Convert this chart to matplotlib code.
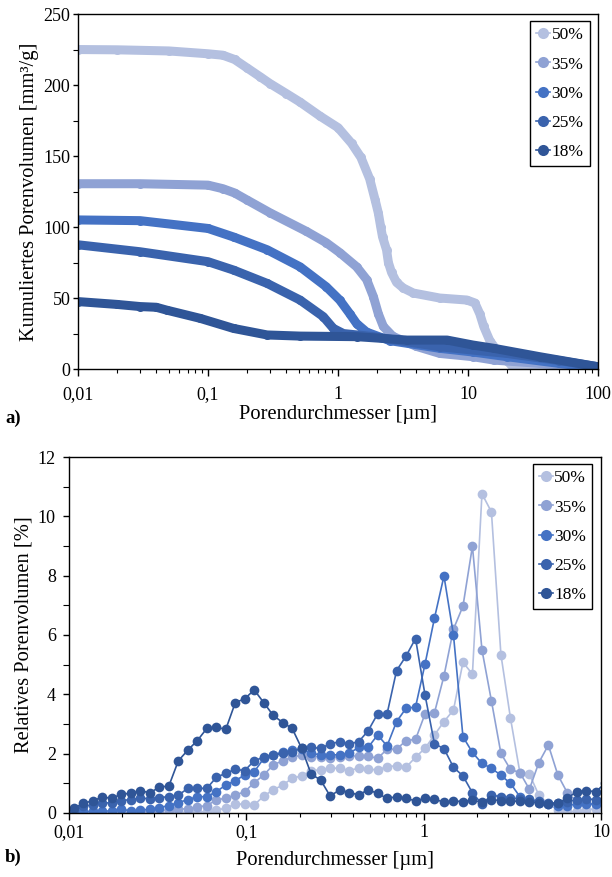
import matplotlib.pyplot as plt
from matplotlib.lines import Line2D
from matplotlib.ticker import FixedLocator, MultipleLocator, LogLocator, NullFormatter

plt.rcParams['font.family'] = ['Liberation Serif', 'DejaVu Serif']

labels = ['50%', '35%', '30%', '25%', '18%']
colors = ['#b4c0e0', '#8fa2d4', '#4472c4', '#3a63ad', '#2f5597']

# cumulative pore volume [mm³/g] vs pore diameter [µm]
d_cum_50 = [0.01, 0.02, 0.05, 0.1, 0.13, 0.16, 0.2, 0.25, 0.3, 0.4, 0.51, 0.73, 1.0, 1.27,
            1.5, 1.75, 1.93, 2.04, 2.13, 2.20, 2.36, 2.44, 2.58, 2.82, 3.18, 3.80, 6.06,
            9.78, 11.3, 12.3, 13.2, 14.7, 16.7, 19.9, 22.4, 30, 50, 100]
v_cum_50 = [225, 224.8, 224, 222, 221, 218, 212, 206, 201, 194, 188, 178, 170, 159,
            149, 134, 119, 110, 100, 93, 84, 75, 68, 61, 57, 53.5, 50,
            48.6, 46.5, 39, 30, 20, 13, 6, 1, 0.3, 0.2, 0]
d_cum_35 = [0.01, 0.03, 0.1, 0.13, 0.16, 0.2, 0.3, 0.57, 0.81, 1.03, 1.39, 1.66, 1.87,
            2.04, 2.23, 2.64, 4.0, 6.06, 10.9, 15.8, 35.5, 100]
v_cum_35 = [130.5, 130.5, 129.5, 127, 124, 119, 110, 97, 89, 82, 72, 63, 51,
            39, 30, 23, 16, 11, 8.7, 6.3, 4, 0.7]
d_cum_30 = [0.01, 0.03, 0.1, 0.157, 0.285, 0.51, 0.81, 1.03, 1.23, 1.39, 1.66,
            2.5, 6.06, 10.9, 19.9, 50, 100]
v_cum_30 = [105, 104.5, 99, 93, 84, 72, 58, 48.6, 39, 32, 26,
            20, 14.6, 12, 8.7, 4, 0.7]
d_cum_25 = [0.01, 0.03, 0.1, 0.157, 0.285, 0.51, 0.77, 0.92, 1.10, 1.87, 6.06,
            19.9, 50, 100]
v_cum_25 = [87.5, 82.6, 75.6, 69.7, 60.3, 48.6, 36.9, 28.6, 25, 22.8, 15.7,
            11, 6, 1.6]
d_cum_18 = [0.01, 0.02, 0.03, 0.04, 0.048, 0.087, 0.157, 0.285, 0.51, 1.39, 3.4, 6.9,
            10.9, 15.8, 35.5, 100]
v_cum_18 = [47.5, 45.5, 44, 43.5, 41.5, 35.7, 28.6, 24, 23.2, 22.8, 20.4, 20.4,
            16.9, 14.6, 8.7, 1.6]

# relative pore volume [%], common diameter steps [µm]
d_rel = [0.01067, 0.01207, 0.01365, 0.01544, 0.01747, 0.01976, 0.02235, 0.02528, 0.02859,
         0.03234, 0.03658, 0.04138, 0.04680, 0.05294, 0.05988, 0.06773, 0.07661, 0.08666,
         0.09800, 0.1108, 0.1254, 0.1418, 0.1604, 0.1814, 0.2052, 0.2321, 0.2626, 0.2970,
         0.3359, 0.3800, 0.4298, 0.4862, 0.5499, 0.6220, 0.7036, 0.7959, 0.9000, 1.018,
         1.151, 1.302, 1.473, 1.666, 1.884, 2.132, 2.411, 2.727, 3.085, 3.489, 3.947,
         4.464, 5.050, 5.712, 6.460, 7.308, 8.266, 9.348, 10.57]
rel_50 = [0.0, 0.0, 0.0, 0.0, 0.0, 0.0, 0.0, 0.0, 0.0, 0.0, 0.0, 0.02, 0.02, 0.03, 0.05,
          0.10, 0.16, 0.30, 0.30, 0.27, 0.57, 0.78, 0.94, 1.17, 1.25, 1.43, 1.45, 1.51,
          1.51, 1.43, 1.51, 1.48, 1.45, 1.56, 1.59, 1.54, 1.88, 2.18, 2.63, 3.08, 3.47,
          5.08, 4.68, 10.76, 10.15, 5.34, 3.21, 1.36, 1.31, 0.60, 0.30, 0.10, 0.05, 0.05,
          0.10, 0.15, 0.20]
rel_35 = [0.0, 0.0, 0.0, 0.0, 0.0, 0.02, 0.02, 0.05, 0.05, 0.08, 0.10, 0.12, 0.15, 0.20,
          0.25, 0.44, 0.50, 0.60, 0.72, 1.02, 1.28, 1.62, 1.76, 1.88, 1.95, 1.90, 1.90,
          1.85, 1.90, 1.92, 1.92, 1.92, 1.84, 2.15, 2.15, 2.44, 2.48, 3.34, 3.38, 4.62,
          6.20, 6.97, 8.99, 5.50, 3.78, 2.01, 1.47, 1.36, 0.80, 1.70, 2.29, 1.28, 0.68,
          0.40, 0.35, 0.30, 0.30]
rel_30 = [0.02, 0.05, 0.05, 0.05, 0.08, 0.15, 0.05, 0.10, 0.12, 0.18, 0.25, 0.35, 0.45,
          0.55, 0.55, 0.72, 0.94, 1.09, 1.28, 1.39, 1.84, 1.95, 2.06, 2.12, 2.15, 2.01,
          1.96, 1.96, 1.96, 2.01, 2.21, 2.21, 2.63, 2.26, 3.08, 3.53, 3.57, 5.02, 6.57,
          7.99, 6.00, 2.57, 2.04, 1.67, 1.51, 1.27, 1.00, 0.55, 0.40, 0.35, 0.30, 0.25,
          0.25, 0.30, 0.30, 0.30, 0.35]
rel_25 = [0.10, 0.22, 0.28, 0.33, 0.35, 0.42, 0.45, 0.50, 0.48, 0.52, 0.55, 0.60, 0.83,
          0.83, 0.83, 1.20, 1.34, 1.47, 1.43, 1.76, 1.88, 1.95, 2.01, 2.07, 2.18, 2.21,
          2.18, 2.33, 2.40, 2.33, 2.40, 2.77, 3.34, 3.34, 4.80, 5.29, 5.88, 3.98, 2.33,
          2.17, 1.54, 1.25, 0.68, 0.30, 0.60, 0.55, 0.50, 0.48, 0.46, 0.40, 0.35, 0.33,
          0.38, 0.45, 0.48, 0.45, 0.50]
rel_18 = [0.16, 0.33, 0.41, 0.54, 0.49, 0.64, 0.66, 0.75, 0.68, 0.87, 0.91, 1.76, 2.12,
          2.44, 2.85, 2.89, 2.82, 3.72, 3.85, 4.15, 3.72, 3.29, 3.05, 2.85, 2.18, 1.31,
          1.11, 0.57, 0.78, 0.69, 0.61, 0.78, 0.66, 0.49, 0.55, 0.49, 0.41, 0.49, 0.47,
          0.36, 0.41, 0.38, 0.43, 0.36, 0.45, 0.42, 0.40, 0.40, 0.38, 0.33, 0.30, 0.33,
          0.50, 0.72, 0.75, 0.72, 1.00]

cum_series = [(d_cum_50, v_cum_50), (d_cum_35, v_cum_35), (d_cum_30, v_cum_30),
              (d_cum_25, v_cum_25), (d_cum_18, v_cum_18)]
rel_series = [rel_50, rel_35, rel_30, rel_25, rel_18]

fig = plt.figure(figsize=(6.12, 8.77), dpi=100)
ax1 = fig.add_axes([0.1275, 0.5792, 0.8497, 0.4048])
ax2 = fig.add_axes([0.1127, 0.0730, 0.8693, 0.4059])

# a) cumulative curves, drawn as thick bands of dense points
for (d, v), c in zip(cum_series, colors):
    ax1.plot(d, v, color=c, lw=6.5, marker='o', ms=6.5, mec='none',
             solid_capstyle='round', solid_joinstyle='round')

# b) relative pore size distribution
for r, c in zip(rel_series, colors):
    ax2.plot(d_rel, r, color=c, lw=1.2, marker='o', ms=7, mec='none')


def style_axes(ax, xmax, ymax, ystep, yminor, xticks, xticklabels, ylabel,
               ylen, ypad, xpad, xlabelpad):
    ax.set_xscale('log')
    ax.set_xlim(0.01, xmax)
    ax.set_ylim(0, ymax)
    ax.xaxis.set_major_locator(FixedLocator(xticks))
    ax.set_xticklabels(xticklabels)
    ax.xaxis.set_minor_locator(LogLocator(base=10, subs=range(2, 10)))
    ax.xaxis.set_minor_formatter(NullFormatter())
    ax.yaxis.set_major_locator(MultipleLocator(ystep))
    ax.yaxis.set_minor_locator(MultipleLocator(yminor))
    ax.tick_params(axis='x', which='major', direction='out', length=5, width=1,
                   labelsize=13, pad=xpad)
    ax.tick_params(axis='y', which='major', direction='out', length=ylen, width=1,
                   labelsize=13, pad=ypad)
    ax.tick_params(axis='x', which='minor', direction='out', length=3, width=0.8)
    ax.tick_params(axis='y', which='minor', direction='out', length=ylen, width=0.8)
    for s in ax.spines.values():
        s.set_linewidth(1)
        s.set_color('black')
    ax.set_xlabel('Porendurchmesser [µm]', fontsize=14.75, labelpad=xlabelpad)
    ax.set_ylabel(ylabel, fontsize=14.75, labelpad=3)
    handles = [Line2D([], [], color=c, lw=1.2, marker='o', ms=8, mec='none')
               for c in colors]
    leg = ax.legend(handles, labels, loc='upper right', bbox_to_anchor=(0.984, 0.980),
                    borderaxespad=0, fontsize=12.5, handlelength=0.8, handletextpad=0.1,
                    labelspacing=0.75, borderpad=0.35, fancybox=False, framealpha=1,
                    edgecolor='black')
    leg.get_frame().set_linewidth(1)


style_axes(ax1, 100, 250, 50, 25, [0.01, 0.1, 1, 10, 100],
           ['0,01', '0,1', '1', '10', '100'], 'Kumuliertes Porenvolumen [mm³/g]',
           ylen=3.5, ypad=2, xpad=7, xlabelpad=2)
style_axes(ax2, 10, 12, 2, 1, [0.01, 0.1, 1, 10],
           ['0,01', '0,1', '1', '10'], 'Relatives Porenvolumen [%]',
           ylen=4.5, ypad=5, xpad=3, xlabelpad=7)

fig.text(0.008, 0.523, 'a)', fontsize=13.5, fontweight='bold', va='center')
fig.text(0.008, 0.022, 'b)', fontsize=13.5, fontweight='bold', va='center')

fig.savefig('out.png', dpi=100)
